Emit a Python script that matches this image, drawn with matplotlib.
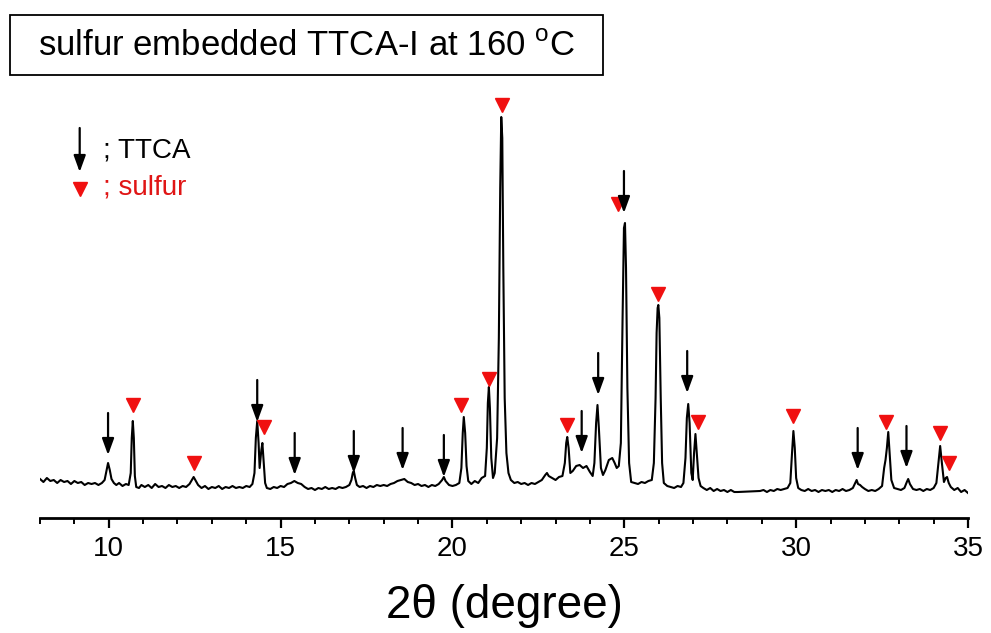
#!/usr/bin/python3

# XRD pattern of sulfur embedded TTCA-I at 160 C, with TTCA and sulfur peaks marked

import matplotlib
matplotlib.use('Agg')
import matplotlib.pyplot as plt
from matplotlib.patches import Rectangle
from matplotlib.ticker import MultipleLocator

plt.rcParams['font.family'] = ['Liberation Sans', 'DejaVu Sans']
plt.rcParams['mathtext.fontset'] = 'custom'
plt.rcParams['mathtext.rm'] = 'Liberation Sans'

# trace of the pattern (2theta in degree, intensity a.u.)
two_theta = [8.0, 8.1, 8.2, 8.3, 8.4, 8.5, 8.6, 8.7, 8.8, 8.9, 9.0, 9.1, 9.2, 9.3, 9.4, 9.5, 9.6, 9.7, 9.8,
             9.88, 9.94, 9.98, 10.03, 10.08, 10.15, 10.22, 10.3, 10.4, 10.5, 10.58, 10.64, 10.67, 10.70, 10.73, 10.76,
             10.8, 10.88, 10.95, 11.05, 11.15, 11.25, 11.35, 11.45, 11.55, 11.65, 11.75, 11.85, 11.95, 12.05, 12.15,
             12.25, 12.35, 12.42, 12.47, 12.52, 12.6, 12.7, 12.8, 12.9, 13.0, 13.1, 13.2, 13.3, 13.4, 13.5, 13.6,
             13.7, 13.8, 13.9, 14.0, 14.1, 14.18, 14.24, 14.28, 14.32, 14.36, 14.39, 14.44, 14.47, 14.51, 14.55,
             14.6, 14.7, 14.8, 14.9, 15.0, 15.1, 15.2, 15.3, 15.4, 15.5, 15.6, 15.7, 15.8, 15.9, 16.0, 16.1, 16.2,
             16.3, 16.4, 16.5, 16.6, 16.7, 16.8, 16.9, 17.0, 17.06, 17.1, 17.13, 17.17, 17.22, 17.3, 17.4, 17.5,
             17.6, 17.7, 17.8, 17.9, 18.0, 18.1, 18.2, 18.3, 18.4, 18.5, 18.6, 18.7, 18.8, 18.9, 19.0, 19.1, 19.2,
             19.3, 19.4, 19.5, 19.6, 19.7, 19.75, 19.8, 19.9, 20.0, 20.1, 20.2, 20.26, 20.3, 20.33, 20.37, 20.41,
             20.46, 20.55, 20.65, 20.75, 20.85, 20.95, 21.0, 21.03, 21.06, 21.09, 21.13, 21.18, 21.23, 21.3, 21.35,
             21.39, 21.42, 21.45, 21.48, 21.52, 21.57, 21.63, 21.7, 21.8, 21.9, 22.0, 22.1, 22.2, 22.3, 22.4, 22.5,
             22.6, 22.7, 22.75, 22.8, 22.9, 23.0, 23.1, 23.2, 23.27, 23.31, 23.34, 23.38, 23.43, 23.5, 23.6, 23.7,
             23.8, 23.9, 24.0, 24.08, 24.13, 24.18, 24.22, 24.26, 24.32, 24.38, 24.45, 24.55, 24.65, 24.72, 24.78,
             24.84, 24.9, 24.95, 24.99, 25.02, 25.05, 25.09, 25.14, 25.2, 25.3, 25.4, 25.5, 25.6, 25.7, 25.8, 25.86,
             25.91, 25.94, 25.97, 25.99, 26.02, 26.06, 26.1, 26.15, 26.25, 26.35, 26.45, 26.55, 26.65, 26.72, 26.78,
             26.82, 26.86, 26.9, 26.95, 26.99, 27.03, 27.07, 27.11, 27.16, 27.22, 27.3, 27.4, 27.5, 27.6, 27.7,
             27.8, 27.9, 28.0, 28.1, 28.2, 28.3, 28.95, 29.05, 29.15, 29.25, 29.35, 29.45, 29.55, 29.65, 29.75,
             29.83, 29.88, 29.92, 29.96, 30.0, 30.06, 30.15, 30.25, 30.35, 30.45, 30.55, 30.65, 30.75, 30.85, 30.95,
             31.05, 31.15, 31.25, 31.35, 31.45, 31.55, 31.65, 31.72, 31.76, 31.8, 31.86, 31.92, 32.0, 32.1, 32.2,
             32.3, 32.4, 32.5, 32.56, 32.6, 32.64, 32.68, 32.72, 32.77, 32.85, 32.95, 33.05, 33.15, 33.22, 33.26,
             33.31, 33.4, 33.5, 33.6, 33.7, 33.8, 33.9, 34.0, 34.08, 34.14, 34.19, 34.24, 34.3, 34.35, 34.39, 34.44,
             34.5, 34.6, 34.7, 34.8, 34.9, 35.0]
intensity = [39, 36, 40, 37, 38, 35, 38, 36, 37, 34, 37, 35, 36, 33, 35, 34, 35, 33, 35,
             38, 48, 55, 48, 39, 35, 33, 35, 32, 34, 33, 45, 80, 97, 80, 42,
             31, 30, 33, 31, 33, 30, 34, 31, 32, 30, 33, 31, 32, 30, 32,
             31, 34, 38, 41, 38, 33, 30, 32, 29, 31, 30, 32, 29, 31, 30, 32,
             30, 31, 30, 32, 31, 34, 45, 80, 97, 75, 50, 68, 75, 55, 35,
             30, 29, 31, 30, 32, 31, 34, 35, 37, 35, 34, 31, 29, 30, 28, 30, 29,
             31, 29, 30, 29, 31, 30, 31, 33, 38, 45, 47, 40, 33, 31, 32, 30,
             32, 31, 33, 32, 33, 32, 34, 35, 37, 38, 39, 36, 35, 33, 34, 32, 33,
             31, 33, 32, 34, 38, 41, 37, 33, 32, 33, 35, 50, 85, 101, 85, 52,
             37, 34, 37, 35, 40, 42, 70, 115, 131, 110, 60, 40, 45, 80, 180,
             330, 401, 380, 250, 120, 65, 45, 38, 35, 36, 34, 35, 33, 35, 34, 36,
             38, 43, 45, 42, 40, 38, 41, 42, 55, 75, 81, 70, 45, 47, 52, 53,
             50, 52, 46, 42, 55, 95, 113, 90, 50, 43, 48, 58, 60, 55, 50,
             52, 75, 200, 290, 295, 250, 130, 55, 36, 35, 34, 36, 35, 37, 38, 55,
             120, 185, 210, 213, 200, 120, 55, 35, 32, 31, 30, 32, 31, 35, 60,
             100, 114, 95, 45, 38, 65, 84, 65, 40, 32, 30, 28, 30, 27, 29,
             27, 28, 26, 28, 26, 26, 27, 28, 26, 28, 27, 29, 28, 29, 30,
             35, 65, 87, 70, 40, 30, 28, 27, 29, 27, 28, 26, 28, 27, 28,
             26, 28, 27, 29, 27, 28, 30, 35, 38, 34, 33, 31, 29, 27, 28,
             27, 29, 32, 50, 58, 70, 86, 65, 38, 30, 29, 28, 30, 36, 39,
             34, 29, 28, 29, 27, 29, 28, 30, 35, 55, 72, 55, 36, 40, 41, 35,
             31, 28, 30, 26, 28, 25]

# TTCA peaks (black arrows): position and arrow tip height
ttca_pos = [9.98, 14.32, 15.41, 17.13, 18.55, 19.75, 23.76, 24.24, 24.99, 26.83, 31.79, 33.21]
ttca_tip = [63, 96, 43, 45, 48, 41, 65, 123, 305, 125, 48, 50]

# sulfur peaks (red triangles): position and marker height
sulfur_pos = [10.70, 12.47, 14.51, 20.24, 21.06, 21.43, 23.33, 24.81, 25.99, 27.13, 29.92, 32.60, 34.19, 34.45]
sulfur_y = [113, 55, 91, 113, 139, 413, 93, 314, 224, 96, 102, 96, 85, 55]

arrow_len = 42
arrowstyle = '-|>,head_length=0.55,head_width=0.2'

fig = plt.figure(figsize=(9.91, 6.33), dpi=100)
ax = fig.add_axes([40 / 991, 1 - 518 / 633, 928 / 991, 428 / 633])

ax.plot(two_theta, intensity, color='black', lw=1.5)

for x, tip in zip(ttca_pos, ttca_tip):
    ax.annotate('', xy=(x, tip), xytext=(x, tip + arrow_len),
                arrowprops=dict(arrowstyle=arrowstyle, color='black', lw=1.6,
                                mutation_scale=18, shrinkA=0, shrinkB=0))

ax.plot(sulfur_pos, sulfur_y, linestyle='none', marker='v', color='#f01010', markersize=10)

# legend by hand
ax.annotate('', xy=(9.155, 346), xytext=(9.155, 390),
            arrowprops=dict(arrowstyle=arrowstyle, color='black', lw=1.6,
                            mutation_scale=18, shrinkA=0, shrinkB=0))
ax.text(9.82, 368, '; TTCA', fontsize=20, color='black', va='center', ha='left')
ax.plot([9.155], [329], linestyle='none', marker='v', color='#f01010', markersize=10)
ax.text(9.82, 331, '; sulfur', fontsize=20, color='#e01515', va='center', ha='left')

ax.set_xlim(8, 35)
ax.set_ylim(0, 428)
for s in ['left', 'right', 'top']:
    ax.spines[s].set_visible(False)
ax.spines['bottom'].set_linewidth(2.0)
ax.set_yticks([])
ax.xaxis.set_major_locator(MultipleLocator(5))
ax.xaxis.set_minor_locator(MultipleLocator(1))
ax.tick_params(axis='x', which='major', direction='out', length=7, width=1.6, pad=6, labelsize=20)
ax.tick_params(axis='x', which='minor', direction='out', length=4, width=1.4)
ax.set_xlabel('2\u03b8 (degree)', fontsize=33, labelpad=16)

# title box
fig.patches.append(Rectangle((10 / 991, 1 - 75 / 633), 593 / 991, 60 / 633,
                             transform=fig.transFigure, fill=False, edgecolor='black', lw=1.3))
fig.text(306 / 991, 1 - 46 / 633, 'sulfur embedded TTCA-I at 160 $^{\\mathrm{o}}$C',
         fontsize=25, ha='center', va='center')

plt.savefig('out.png', dpi=100)
